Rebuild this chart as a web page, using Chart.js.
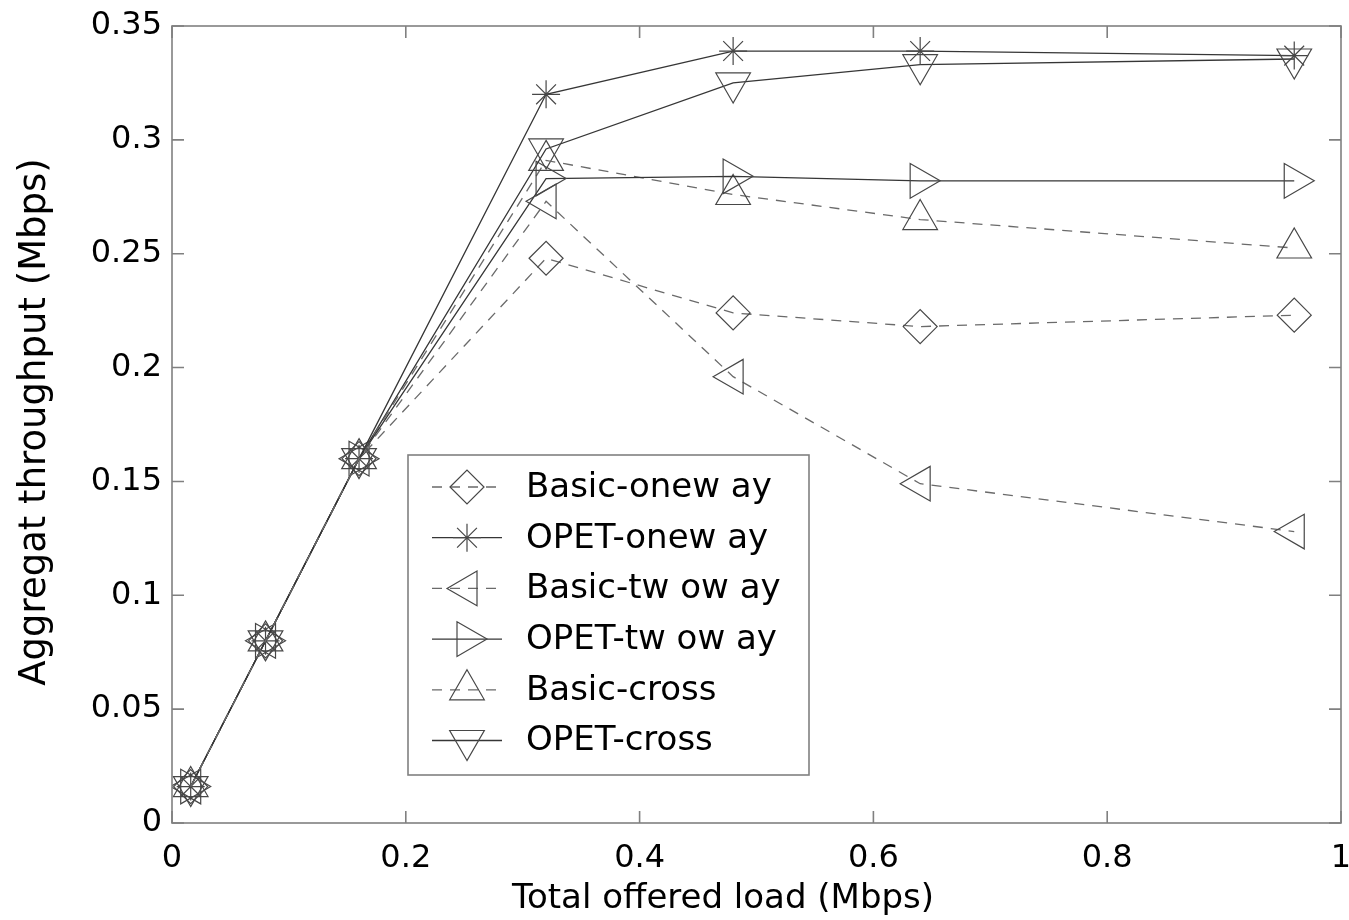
<!DOCTYPE html>
<html>
<head>
<meta charset="utf-8">
<script src="https://cdn.jsdelivr.net/npm/chart.js@4.4.1/dist/chart.umd.min.js"></script>
<style>
  html, body { margin: 0; background: #fff; }
</style>
</head>
<body>
<canvas id="chart" width="1349" height="920"></canvas>
<script>
// ---- data ----
const LOAD = [0.016, 0.08, 0.16, 0.32, 0.48, 0.64, 0.96];

const BASIC_ONEWAY = [0.016, 0.08, 0.16, 0.248, 0.224, 0.218, 0.223];
const OPET_ONEWAY  = [0.016, 0.08, 0.16, 0.320, 0.339, 0.339, 0.337];
const BASIC_TWOWAY = [0.016, 0.08, 0.16, 0.273, 0.196, 0.149, 0.128];
const OPET_TWOWAY  = [0.016, 0.08, 0.16, 0.283, 0.284, 0.282, 0.282];
const BASIC_CROSS  = [0.016, 0.08, 0.16, 0.291, 0.276, 0.265, 0.2525];
const OPET_CROSS   = [0.016, 0.08, 0.16, 0.296, 0.325, 0.333, 0.3355];

const SERIES_NAMES = ["Basic-onew ay", "OPET-onew ay", "Basic-tw ow ay", "OPET-tw ow ay", "Basic-cross", "OPET-cross"];

const X_TITLE = "Total offered load (Mbps)";
const Y_TITLE = "Aggregat throughput (Mbps)";

const FONT = "'DejaVu Sans', 'Liberation Sans', sans-serif";
const DASH = [10, 8];

function pts(vals) {
  return LOAD.map((x, i) => ({ x: x, y: vals[i] }));
}

function series(label, vals, style, rot, radius, dashed) {
  return {
    label: label,
    data: pts(vals),
    borderColor: dashed ? "#6a6a6a" : "#363636",
    borderWidth: 1.3,
    borderDash: dashed ? DASH : [],
    pointStyle: style,
    pointRotation: rot,
    pointRadius: radius,
    pointBorderColor: "#474747",
    pointBackgroundColor: "rgba(0,0,0,0)",
    pointBorderWidth: 1.2,
    tension: 0,
    fill: false,
  };
}

const fmt = (v) => String(Math.round(v * 100) / 100);

// ---- axes box with inward ticks (matlab look) + axis titles ----
const boxPlugin = {
  id: "box",
  afterDatasetsDraw(chart) {
    const { ctx, chartArea: a, scales } = chart;
    ctx.save();
    ctx.strokeStyle = "#808080";
    ctx.lineWidth = 1.6;
    ctx.strokeRect(a.left, a.top, a.right - a.left, a.bottom - a.top);
    ctx.beginPath();
    scales.x.ticks.forEach((t) => {
      const px = scales.x.getPixelForValue(t.value);
      ctx.moveTo(px, a.bottom); ctx.lineTo(px, a.bottom - 12);
      ctx.moveTo(px, a.top); ctx.lineTo(px, a.top + 12);
    });
    scales.y.ticks.forEach((t) => {
      const py = scales.y.getPixelForValue(t.value);
      ctx.moveTo(a.left, py); ctx.lineTo(a.left + 12, py);
      ctx.moveTo(a.right, py); ctx.lineTo(a.right - 12, py);
    });
    ctx.stroke();

    ctx.fillStyle = "#000";
    ctx.textAlign = "center";
    ctx.textBaseline = "alphabetic";
    ctx.font = "34px " + FONT;
    ctx.fillText(X_TITLE, 723, 908);
    ctx.translate(45, 422);
    ctx.rotate(-Math.PI / 2);
    ctx.font = "37px " + FONT;
    ctx.fillText(Y_TITLE, 0, 0);
    ctx.restore();
  },
};

// ---- legend box inside the plot ----
const legendPlugin = {
  id: "boxLegend",
  afterDraw(chart) {
    const { ctx } = chart;
    const left = 408, top = 455, w = 401, h = 320;
    ctx.save();
    ctx.fillStyle = "#fff";
    ctx.fillRect(left, top, w, h);
    ctx.strokeStyle = "#808080";
    ctx.lineWidth = 1.6;
    ctx.strokeRect(left, top, w, h);
    chart.data.datasets.forEach((ds, i) => {
      const y = top + 32 + i * 50.7;
      ctx.strokeStyle = ds.borderColor;
      ctx.lineWidth = ds.borderWidth;
      ctx.setLineDash(ds.borderDash);
      ctx.beginPath();
      ctx.moveTo(432, y); ctx.lineTo(502, y);
      ctx.stroke();
      ctx.setLineDash([]);
      ctx.strokeStyle = ds.pointBorderColor;
      ctx.fillStyle = ds.pointBackgroundColor;
      ctx.lineWidth = ds.pointBorderWidth;
      if (Chart.helpers && Chart.helpers.drawPoint) {
        Chart.helpers.drawPoint(ctx, {
          pointStyle: ds.pointStyle,
          rotation: ds.pointRotation,
          radius: ds.pointRadius,
          borderWidth: ds.pointBorderWidth,
        }, 467, y);
      }
      ctx.fillStyle = "#000";
      ctx.font = "34px " + FONT;
      ctx.textBaseline = "middle";
      ctx.textAlign = "left";
      ctx.fillText(ds.label, 526, y + 1);
    });
    ctx.restore();
  },
};

new Chart(document.getElementById("chart"), {
  type: "line",
  data: {
    datasets: [
      series(SERIES_NAMES[0], BASIC_ONEWAY, "rectRot", 0, 17, true),
      series(SERIES_NAMES[1], OPET_ONEWAY, "star", 0, 14, false),
      series(SERIES_NAMES[2], BASIC_TWOWAY, "triangle", -90, 20, true),
      series(SERIES_NAMES[3], OPET_TWOWAY, "triangle", 90, 20, false),
      series(SERIES_NAMES[4], BASIC_CROSS, "triangle", 0, 20, true),
      series(SERIES_NAMES[5], OPET_CROSS, "triangle", 180, 20, false),
    ],
  },
  options: {
    responsive: false,
    animation: false,
    layout: { autoPadding: false, padding: { top: 26, right: 8, left: 0, bottom: 0 } },
    plugins: {
      legend: { display: false },
      tooltip: { enabled: false },
    },
    scales: {
      x: {
        type: "linear",
        min: 0,
        max: 1,
        ticks: {
          stepSize: 0.2,
          color: "#000",
          font: { family: FONT, size: 32 },
          padding: 8,
          maxRotation: 0,
          callback: fmt,
        },
        grid: { display: false },
        border: { display: false },
        afterFit(s) {
          s.height = 97;
          // the last label may hang over the right edge, as in the figure
          s.paddingLeft = 0;
          s.paddingRight = 8;
        },
      },
      y: {
        min: 0,
        max: 0.35,
        ticks: {
          stepSize: 0.05,
          color: "#000",
          font: { family: FONT, size: 32 },
          padding: 2,
          callback: fmt,
        },
        grid: { display: false },
        border: { display: false },
        afterFit(s) {
          s.width = 172;
        },
      },
    },
  },
  plugins: [boxPlugin, legendPlugin],
});
</script>
</body>
</html>
